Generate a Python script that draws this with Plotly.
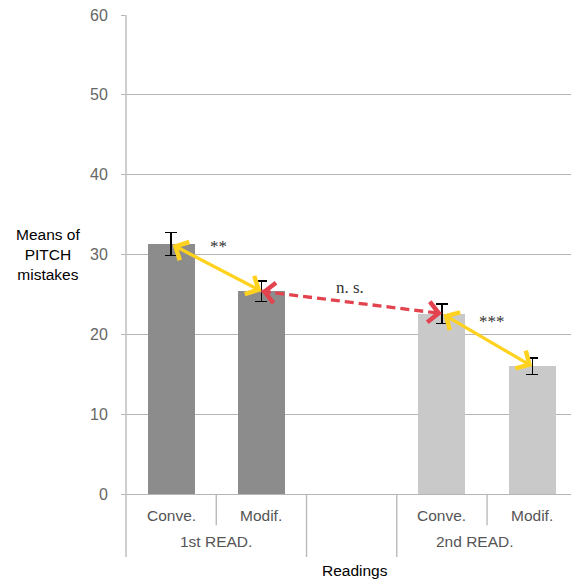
import plotly.graph_objects as go

# Mean pitch mistakes per reading and score type
first_labels = ["Conve.", "Modif."]
first_pos = [0, 1]
first_means = [31.3, 25.4]
first_err = [1.45, 1.3]

second_labels = ["Conve.", "Modif."]
second_pos = [3, 4]
second_means = [22.6, 16.0]
second_err = [1.2, 1.05]

group_labels = ["1st READ.", "2nd READ."]
y_ticks = [0, 10, 20, 30, 40, 50, 60]

X_RANGE = [-0.5, 4.43]
GRID = "#B5B5B5"
YELLOW = "#FFD21F"
RED = "#E2434F"
SANS = "Liberation Sans, Arial, sans-serif"


def px(xv):
    """Data x -> paper x."""
    return (xv - X_RANGE[0]) / (X_RANGE[1] - X_RANGE[0])


fig = go.Figure()

err_style = dict(type="data", color="black", thickness=1.3, width=6)
fig.add_trace(go.Bar(
    x=first_pos, y=first_means, width=0.52,
    marker=dict(color="#8C8C8C", line=dict(width=0)),
    error_y=dict(array=first_err, **err_style),
    showlegend=False,
))
fig.add_trace(go.Bar(
    x=second_pos, y=second_means, width=0.52,
    marker=dict(color="#C9C9C9", line=dict(width=0)),
    error_y=dict(array=second_err, **err_style),
    showlegend=False,
))

annotations = []
shapes = []

# Double-headed comparison arrows between bar tops
pts = list(zip(first_pos + second_pos, first_means + second_means))


def solid_arrow(a, b, color):
    annotations.append(dict(
        x=b[0], y=b[1], ax=a[0], ay=a[1], xref="x", yref="y",
        axref="x", ayref="y", text="", showarrow=True,
        arrowhead=4, startarrowhead=4, arrowside="end+start",
        arrowsize=1.2, startarrowsize=1.2, arrowwidth=3.3, arrowcolor=color,
    ))


solid_arrow(pts[0], pts[1], YELLOW)
solid_arrow(pts[2], pts[3], YELLOW)

# Dashed red arrow between the two readings
a, b = pts[1], pts[2]
fig.add_trace(go.Scatter(
    x=[a[0], b[0]], y=[a[1], b[1]], mode="lines",
    line=dict(color=RED, width=3.3, dash="9px,5px"),
    showlegend=False, hoverinfo="skip",
))
for head, tail in [(a, b), (b, a)]:
    f = 0.06
    annotations.append(dict(
        x=head[0], y=head[1],
        ax=head[0] + f * (tail[0] - head[0]), ay=head[1] + f * (tail[1] - head[1]),
        xref="x", yref="y", axref="x", ayref="y", text="", showarrow=True,
        arrowhead=4, arrowsize=1.2, arrowwidth=3.3, arrowcolor=RED,
    ))

# Significance labels
serif = dict(family="Liberation Serif, DejaVu Serif, serif", size=17, color="#333333")
annotations += [
    dict(x=0.53, y=31.0, text="**", showarrow=False, xref="x", yref="y", font=serif),
    dict(x=1.98, y=25.9, text="n. s.", showarrow=False, xref="x", yref="y", font=serif),
    dict(x=3.55, y=21.6, text="***", showarrow=False, xref="x", yref="y", font=serif),
]

# Category axis: two-level labels with divider lines
sans_gray = dict(family=SANS, size=15.5, color="#555555")
for pos, lab in zip(first_pos + second_pos, first_labels + second_labels):
    annotations.append(dict(x=px(pos), y=-0.044, xref="paper", yref="paper", text=lab,
                            showarrow=False, font=sans_gray, xanchor="center", yanchor="middle"))
annotations.append(dict(x=px(0.5), y=-0.1, xref="paper", yref="paper", text=group_labels[0],
                        showarrow=False, font=sans_gray, xanchor="center", yanchor="middle"))
annotations.append(dict(x=px(3.37), y=-0.1, xref="paper", yref="paper", text=group_labels[1],
                        showarrow=False, font=sans_gray, xanchor="center", yanchor="middle"))

line_style = dict(color=GRID, width=1.3)
# value axis line runs the full height, down through the label rows
shapes.append(dict(type="line", xref="paper", yref="paper", x0=0, x1=0,
                   y0=-0.1315, y1=1, line=line_style, layer="below"))
for xv, y0 in [(1.5, -0.1315), (2.5, -0.1315), (0.5, -0.065), (3.5, -0.065)]:
    shapes.append(dict(type="line", xref="paper", yref="paper",
                       x0=px(xv), x1=px(xv), y0=y0, y1=0, line=line_style, layer="below"))

annotations.append(dict(x=px(2.04), y=-0.159, xref="paper", yref="paper", text="Readings",
                        showarrow=False, xanchor="center", yanchor="middle",
                        font=dict(family=SANS, size=15.5, color="black")))
annotations.append(dict(x=-0.175, y=30, xref="paper", yref="y",
                        text="Means of<br>PITCH<br>mistakes", showarrow=False,
                        xanchor="center", yanchor="middle",
                        font=dict(family=SANS, size=15.5, color="black")))

fig.update_layout(
    width=571, height=583,
    margin=dict(l=126, r=0, t=15, b=89),
    paper_bgcolor="white", plot_bgcolor="white",
    bargap=0,
    annotations=annotations, shapes=shapes,
    xaxis=dict(range=X_RANGE, showticklabels=False, ticks="", showgrid=False,
               zeroline=False, showline=True, linecolor=GRID, linewidth=1.3),
    yaxis=dict(range=[0, 60], tickvals=y_ticks, ticks="outside", ticklen=4,
               tickcolor=GRID, tickwidth=1.3, showgrid=True, gridcolor=GRID, gridwidth=1.3,
               zeroline=False, showline=False, ticklabelstandoff=10,
               tickfont=dict(family=SANS, size=16, color="#666666")),
)

fig.write_html("out.html")
